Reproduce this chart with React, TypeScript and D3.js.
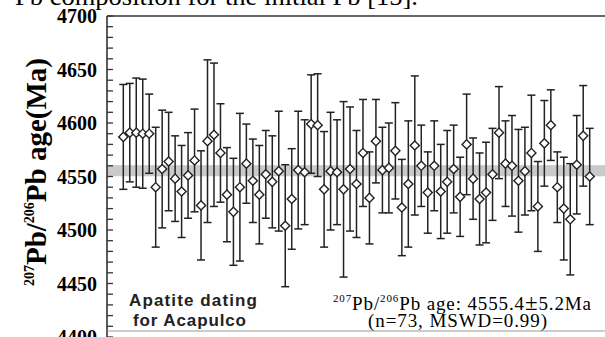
import React, { useEffect, useRef } from 'react'
import * as d3 from 'd3'

// 207Pb/206Pb ages (Ma) of the 73 apatite spots, and their error bars (±)
const ages = [
  4587, 4591, 4591, 4590, 4590, 4540, 4557, 4564, 4548, 4536,
  4551, 4565, 4523, 4583, 4589, 4572, 4533, 4517, 4540, 4562,
  4546, 4533, 4552, 4545, 4555, 4504, 4529, 4556, 4554, 4599,
  4598, 4538, 4555, 4554, 4538, 4557, 4543, 4572, 4530, 4583,
  4556, 4558, 4574, 4521, 4543, 4579, 4560, 4535, 4560, 4536,
  4545, 4557, 4531, 4580, 4548, 4529, 4535, 4552, 4591, 4562,
  4560, 4546, 4555, 4572, 4522, 4581, 4598, 4540, 4520, 4510,
  4561, 4588, 4550
]
const errors = [
  49, 46, 51, 51, 37, 56, 55, 46, 40, 43,
  40, 48, 51, 76, 67, 46, 44, 50, 69, 37,
  39, 46, 41, 43, 56, 57, 47, 55, 49, 46,
  48, 54, 55, 49, 82, 58, 50, 50, 43, 39,
  40, 42, 45, 45, 59, 65, 38, 38, 42, 44,
  48, 41, 37, 47, 38, 43, 47, 43, 43, 40,
  47, 48, 41, 54, 42, 40, 33, 33, 48, 52,
  46, 47, 45
]
const meanAge = 4555.4
const meanErr = 5.2
const yTicks = [4400, 4450, 4500, 4550, 4600, 4650, 4700]

const SERIF = '"Liberation Serif", "Times New Roman", serif'
const SANS = '"Liberation Sans", Arial, sans-serif'

function App() {
  const ref = useRef<SVGSVGElement>(null)

  useEffect(() => {
    document.body.style.margin = '0'
    const svg = d3.select(ref.current)
    svg.selectAll('*').remove()

    const left = 107
    const right = 605
    const top = 16

    const x = d3.scaleLinear().domain([1, ages.length]).range([123.3, 589.7])
    const y = d3.scaleLinear().domain([4400, 4700]).range([337, top])

    // cropped caption line from the page above
    svg.append('text')
      .attr('x', 15).attr('y', 5)
      .attr('font-family', SERIF).attr('font-size', 26)
      .attr('textLength', 403).attr('lengthAdjust', 'spacingAndGlyphs')
      .text('Pb composition for the initial Pb [15].')

    // weighted mean band
    svg.append('rect')
      .attr('x', left).attr('width', right - left)
      .attr('y', y(meanAge + meanErr))
      .attr('height', y(meanAge - meanErr) - y(meanAge + meanErr))
      .attr('fill', '#cacaca')

    // frame: top line, left axis, bottom line
    svg.append('line')
      .attr('x1', left).attr('x2', right).attr('y1', top).attr('y2', top)
      .attr('stroke', '#333').attr('stroke-width', 1.6)
    svg.append('line')
      .attr('x1', left).attr('x2', left).attr('y1', top).attr('y2', 337)
      .attr('stroke', '#333').attr('stroke-width', 1.6)
    svg.append('line')
      .attr('x1', left).attr('x2', right).attr('y1', 331).attr('y2', 331)
      .attr('stroke', '#999').attr('stroke-width', 1)

    // minor ticks every 10 Ma, inside
    svg.append('g')
      .selectAll('line')
      .data(d3.range(4400, 4701, 10)).enter().append('line')
        .attr('x1', left).attr('x2', left + 6)
        .attr('y1', d => y(d)).attr('y2', d => y(d))
        .attr('stroke', '#333').attr('stroke-width', 1.3)

    // tick labels
    svg.append('g')
      .selectAll('text')
      .data(yTicks).enter().append('text')
        .attr('x', 97).attr('y', d => y(d))
        .attr('dy', '0.35em')
        .attr('text-anchor', 'end')
        .attr('font-family', SERIF).attr('font-weight', 'bold').attr('font-size', 20)
        .text(d => d)

    // y axis title
    const title = svg.append('text')
      .attr('transform', 'translate(46,172) rotate(-90)')
      .attr('text-anchor', 'middle')
      .attr('font-family', SERIF).attr('font-weight', 'bold')
    title.append('tspan').attr('font-size', 14).attr('dy', -12).text('207')
    title.append('tspan').attr('font-size', 29).attr('dy', 12).text('Pb/')
    title.append('tspan').attr('font-size', 14).attr('dy', -12).text('206')
    title.append('tspan').attr('font-size', 29).attr('dy', 12).text('Pb age(Ma)')

    // error bars
    const bars = svg.append('g').attr('class', 'bars')
      .selectAll('g')
      .data(ages).enter().append('g')
      .attr('stroke', '#222').attr('stroke-width', 1.5)
    bars.append('line')
      .attr('x1', (d, i) => x(i + 1)).attr('x2', (d, i) => x(i + 1))
      .attr('y1', (d, i) => y(d + errors[i])).attr('y2', (d, i) => y(d - errors[i]))
    bars.append('line')
      .attr('x1', (d, i) => x(i + 1) - 4).attr('x2', (d, i) => x(i + 1) + 4)
      .attr('y1', (d, i) => y(d + errors[i])).attr('y2', (d, i) => y(d + errors[i]))
    bars.append('line')
      .attr('x1', (d, i) => x(i + 1) - 4).attr('x2', (d, i) => x(i + 1) + 4)
      .attr('y1', (d, i) => y(d - errors[i])).attr('y2', (d, i) => y(d - errors[i]))

    // diamonds
    const diamond = d3.symbol().type(d3.symbolSquare).size(42)
    svg.append('g')
      .selectAll('path')
      .data(ages).enter().append('path')
        .attr('d', diamond)
        .attr('transform', (d, i) => `translate(${x(i + 1)},${y(d)}) rotate(45)`)
        .attr('fill', 'white')
        .attr('stroke', '#222').attr('stroke-width', 1.4)

    // sample label
    svg.append('text')
      .attr('x', 129).attr('y', 306)
      .attr('font-family', SANS).attr('font-weight', 'bold').attr('font-size', 17)
      .attr('textLength', 128).attr('lengthAdjust', 'spacing')
      .attr('fill', '#222')
      .text('Apatite dating')
    svg.append('text')
      .attr('x', 133).attr('y', 326)
      .attr('font-family', SANS).attr('font-weight', 'bold').attr('font-size', 17)
      .attr('textLength', 113).attr('lengthAdjust', 'spacing')
      .attr('fill', '#222')
      .text('for Acapulco')

    // age summary
    const res = svg.append('text')
      .attr('x', 333).attr('y', 310)
      .attr('font-family', SERIF).attr('font-size', 19)
      .attr('textLength', 258).attr('lengthAdjust', 'spacing')
    res.append('tspan').attr('font-size', 11).attr('dy', -8).text('207')
    res.append('tspan').attr('dy', 8).text('Pb/')
    res.append('tspan').attr('font-size', 11).attr('dy', -8).text('206')
    res.append('tspan').attr('dy', 8).text('Pb age: ' + meanAge)
    res.append('tspan').attr('font-size', 23).text('\u00b1')
    res.append('tspan').text(meanErr + 'Ma')
    svg.append('text')
      .attr('x', 368).attr('y', 327)
      .attr('font-family', SERIF).attr('font-size', 19)
      .attr('textLength', 179).attr('lengthAdjust', 'spacing')
      .text('(n=' + ages.length + ', MSWD=0.99)')
  }, [])

  return <svg ref={ref} width={605} height={337} style={{ display: 'block' }}></svg>
}

export default App
